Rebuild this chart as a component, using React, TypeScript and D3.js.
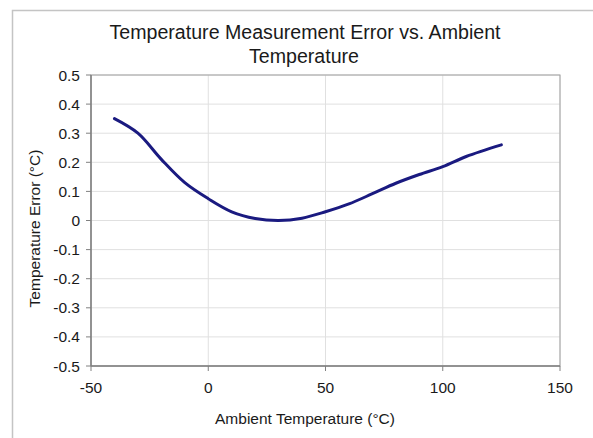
import React from "react";
import * as d3 from "d3";

const ambientTemps = [-40, -30, -20, -10, 0, 10, 20, 30, 40, 50, 60, 70, 80, 90, 100, 110, 125];
const errorValues = [0.35, 0.30, 0.21, 0.13, 0.075, 0.03, 0.007, 0.0, 0.008, 0.03, 0.057, 0.092, 0.128, 0.158, 0.185, 0.22, 0.26];
const xTicks = [-50, 0, 50, 100, 150];
const yTicks = [-0.5, -0.4, -0.3, -0.2, -0.1, 0, 0.1, 0.2, 0.3, 0.4, 0.5];

const W = 593;
const H = 438;
const plot = { left: 91, right: 560, top: 75, bottom: 366 };
const font = "'Liberation Sans', Arial, sans-serif";
const tickSize = 15.5;

export default function App() {
  const x = d3.scaleLinear().domain([-50, 150]).range([plot.left, plot.right]);
  const y = d3.scaleLinear().domain([-0.5, 0.5]).range([plot.bottom, plot.top]);
  const pts: [number, number][] = ambientTemps.map((t, i) => [t, errorValues[i]]);
  const line = d3
    .line<[number, number]>()
    .x((d) => x(d[0]))
    .y((d) => y(d[1]))
    .curve(d3.curveCatmullRom.alpha(0.5));
  const fmtY = (v: number) => (Math.abs(v) < 1e-9 ? "0" : v.toFixed(1));

  return (
    <svg
      width={W}
      height={H}
      style={{ position: "fixed", left: 0, top: 0, background: "#fff" }}
      fontFamily={font}
    >
      <rect x={0} y={0} width={W} height={H} fill="#fff" />
      {/* outer chart frame */}
      <rect x={12.5} y={10.5} width={W + 20} height={H + 20} fill="#fff" stroke="#c4c4c4" strokeWidth={1.5} />

      {/* title */}
      <text x={305} y={38.5} textAnchor="middle" fontSize={19.6} fill="#1a1a1a">
        Temperature Measurement Error vs. Ambient
      </text>
      <text x={304} y={62.5} textAnchor="middle" fontSize={19.6} fill="#1a1a1a">
        Temperature
      </text>

      {/* gridlines */}
      {yTicks.map((t) => (
        <line key={"gy" + t} x1={plot.left} x2={plot.right} y1={y(t)} y2={y(t)} stroke="#e0e0e0" strokeWidth={1} />
      ))}
      {xTicks.map((t) => (
        <line key={"gx" + t} x1={x(t)} x2={x(t)} y1={plot.top} y2={plot.bottom} stroke="#e0e0e0" strokeWidth={1} />
      ))}

      {/* plot border */}
      <rect
        x={plot.left}
        y={plot.top}
        width={plot.right - plot.left}
        height={plot.bottom - plot.top}
        fill="none"
        stroke="#a0a0a0"
        strokeWidth={1}
      />
      {/* axes */}
      <line x1={plot.left} x2={plot.left} y1={plot.top} y2={plot.bottom} stroke="#808080" strokeWidth={1.5} />
      <line x1={plot.left} x2={plot.right} y1={plot.bottom} y2={plot.bottom} stroke="#808080" strokeWidth={1.5} />

      {/* y ticks */}
      {yTicks.map((t) => (
        <g key={"ty" + t}>
          <line x1={plot.left - 5} x2={plot.left} y1={y(t)} y2={y(t)} stroke="#808080" strokeWidth={1} />
          <text x={plot.left - 11} y={y(t)} dy="0.36em" textAnchor="end" fontSize={tickSize} fill="#1a1a1a">
            {fmtY(t)}
          </text>
        </g>
      ))}
      {/* x ticks */}
      {xTicks.map((t) => (
        <g key={"tx" + t}>
          <line x1={x(t)} x2={x(t)} y1={plot.bottom} y2={plot.bottom + 5} stroke="#808080" strokeWidth={1} />
          <text x={x(t)} y={393} textAnchor="middle" fontSize={tickSize} fill="#1a1a1a">
            {String(t)}
          </text>
        </g>
      ))}

      {/* axis titles */}
      <text x={305} y={424} textAnchor="middle" fontSize={tickSize} fill="#1a1a1a">
        Ambient Temperature (°C)
      </text>
      <text
        transform={`translate(34,${(plot.top + plot.bottom) / 2 + 8}) rotate(-90)`}
        dy="0.36em"
        textAnchor="middle"
        fontSize={tickSize}
        fill="#1a1a1a"
      >
        Temperature Error (°C)
      </text>

      {/* series */}
      <path d={line(pts) ?? ""} fill="none" stroke="#1a1a80" strokeWidth={3} strokeLinejoin="round" strokeLinecap="round" />
    </svg>
  );
}
